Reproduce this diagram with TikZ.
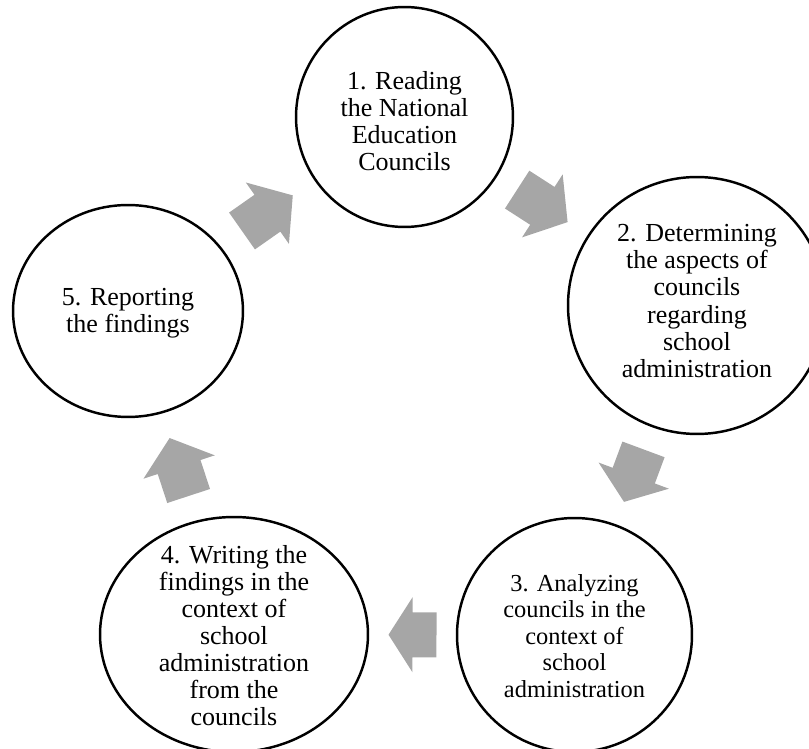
\documentclass[tikz,border=0pt]{standalone}
\usepackage{fontspec}
\setmainfont{Liberation Serif}
\usetikzlibrary{shapes.geometric}

\definecolor{arrowgray}{HTML}{A6A6A6}

\tikzset{
  stage/.style={draw, ellipse, line width=1.4pt, inner sep=0pt},
  stagetext/.style={align=center, inner sep=0pt, font=\fontsize{14.8}{15.4}\selectfont},
  pics/flow/.style={code={
    \fill[arrowgray] (-#1/2,-22.5) -- (0,-22.5) -- (0,-37.5) -- (#1/2,0)
      -- (0,37.5) -- (0,22.5) -- (-#1/2,22.5) -- cycle;
  }}
}

\begin{document}
\begin{tikzpicture}[x=0.02cm, y=-0.02cm]

\clip (0,0) rectangle (809,749);

% the five stages
\node[stage, minimum width=4.34cm, minimum height=4.4cm] (reading) at (404.5,117) {};
\node[stage, minimum width=5.16cm, minimum height=5.14cm] (aspects) at (697,305.5) {};
\node[stage, minimum width=4.7cm, minimum height=4.68cm] (analyzing) at (574.5,635) {};
\node[stage, minimum width=5.36cm, minimum height=4.7cm] (writing) at (234,634.5) {};
\node[stage, minimum width=4.6cm, minimum height=4.24cm] (reporting) at (128,311) {};

\node[stagetext] (readingtext) at (404.5,121) {1. Reading\\the National\\Education\\Councils};
\node[stagetext] (aspectstext) at (697,301) {2. Determining\\the aspects of\\councils\\regarding\\school\\administration};
\node[stagetext, font=\fontsize{13.9}{15}\selectfont] (analyzingtext) at (574.5,636) {3. Analyzing\\councils in the\\context of\\school\\administration};
\node[stagetext] (writingtext) at (234,635.5) {4. Writing the\\findings in the\\context of\\school\\administration\\from the\\councils};
\node[stagetext] (reportingtext) at (128,313) {5. Reporting\\the findings};

% gray block arrows between the stages
\foreach \a/\b/\l in {reporting/reading/62, reading/aspects/60, aspects/analyzing/56,
  analyzing/writing/48, writing/reporting/61} {
\path (\a) -- (\b) pic[midway, sloped, allow upside down] {flow=\l};
}

\end{tikzpicture}
\end{document}
